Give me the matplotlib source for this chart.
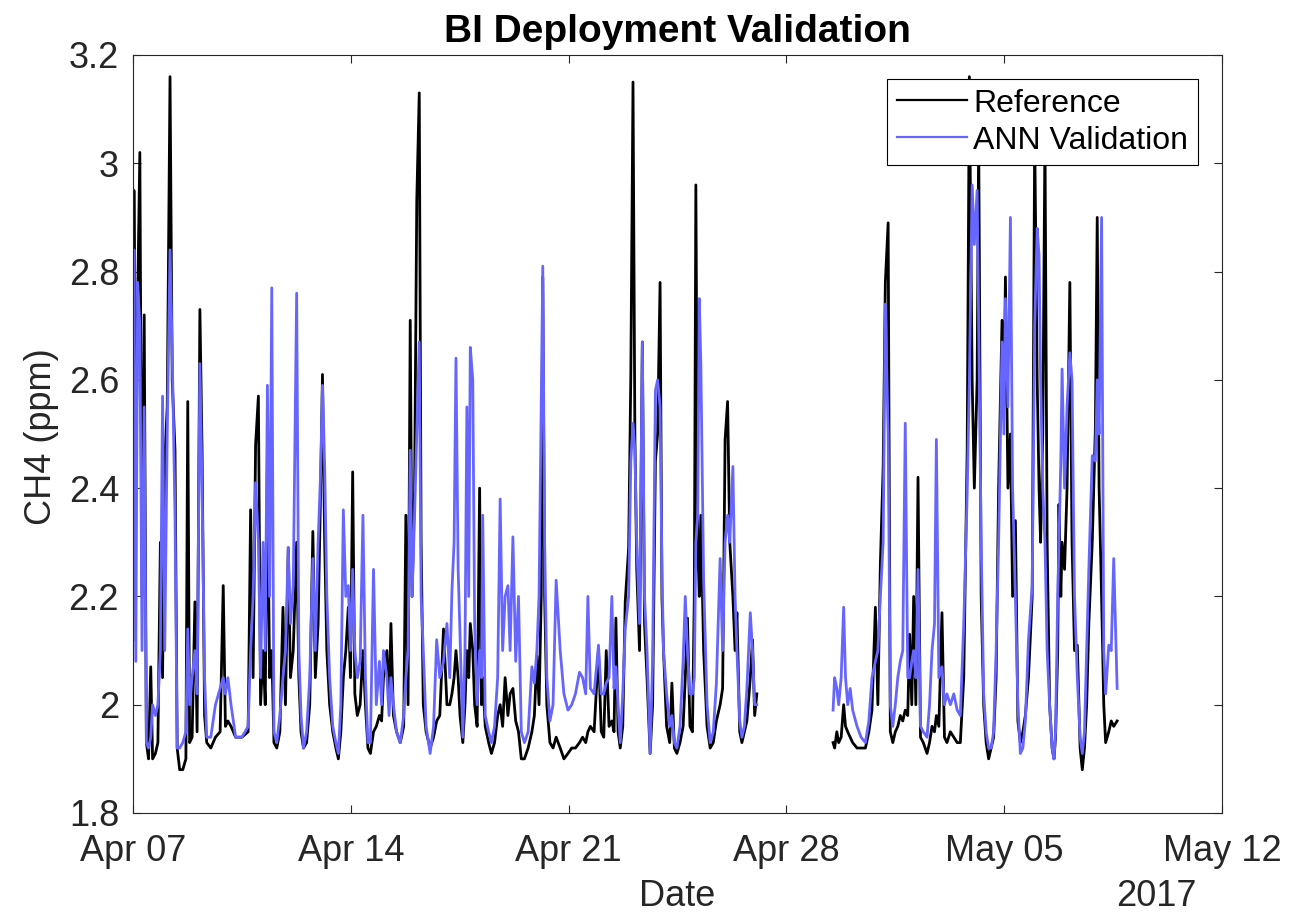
import numpy as np
import pandas as pd
import matplotlib
matplotlib.use("Agg")
from matplotlib import pyplot as plt

plt.rcParams['font.family'] = ['Liberation Sans', 'DejaVu Sans']

# days since 2017-04-07 00:00, CH4 reference and ANN values (ppm)
start = "2017-04-07"
days = [
    0.00, 0.03, 0.09, 0.15, 0.22, 0.29, 0.36, 0.43, 0.50, 0.57,
    0.63, 0.72, 0.80, 0.88, 0.95, 1.02, 1.10, 1.19, 1.26, 1.35,
    1.42, 1.50, 1.60, 1.70, 1.76, 1.82, 1.90, 1.99, 2.06, 2.15,
    2.22, 2.30, 2.37, 2.50, 2.65, 2.80, 2.90, 2.97, 3.05, 3.15,
    3.30, 3.50, 3.70, 3.78, 3.86, 3.94, 4.03, 4.10, 4.18, 4.25,
    4.32, 4.39, 4.46, 4.53, 4.62, 4.72, 4.82, 4.90, 4.99, 5.06,
    5.15, 5.26, 5.33, 5.40, 5.48, 5.58, 5.68, 5.78, 5.86, 5.95,
    6.03, 6.09, 6.16, 6.23, 6.32, 6.42, 6.52, 6.60, 6.68, 6.76,
    6.84, 6.92, 6.99, 7.06, 7.13, 7.21, 7.30, 7.39, 7.47, 7.55,
    7.63, 7.73, 7.82, 7.92, 7.99, 8.05, 8.16, 8.23, 8.29, 8.37,
    8.47, 8.59, 8.70, 8.77, 8.84, 8.91, 8.97, 9.05, 9.12, 9.20,
    9.26, 9.33, 9.42, 9.55, 9.66, 9.76, 9.86, 9.98, 10.09, 10.18,
    10.25, 10.32, 10.38, 10.45, 10.51, 10.60, 10.67, 10.73, 10.79, 10.84,
    10.92, 10.98, 11.06, 11.14, 11.20, 11.24, 11.32, 11.43, 11.52, 11.62,
    11.72, 11.80, 11.88, 11.96, 12.05, 12.12, 12.21, 12.30, 12.39, 12.48,
    12.58, 12.70, 12.82, 12.90, 12.98, 13.05, 13.12, 13.17, 13.23, 13.30,
    13.40, 13.50, 13.60, 13.73, 13.85, 13.98, 14.10, 14.22, 14.35, 14.45,
    14.55, 14.62, 14.70, 14.82, 14.96, 15.05, 15.13, 15.21, 15.30, 15.39,
    15.46, 15.52, 15.59, 15.66, 15.74, 15.82, 15.93, 16.00, 16.07, 16.13,
    16.19, 16.28, 16.37, 16.44, 16.52, 16.62, 16.70, 16.79, 16.86, 16.94,
    17.00, 17.05, 17.15, 17.25, 17.32, 17.40, 17.48, 17.58, 17.68, 17.75,
    17.82, 17.90, 17.98, 18.04, 18.09, 18.15, 18.20, 18.25, 18.34, 18.45,
    18.55, 18.65, 18.75, 18.87, 18.95, 19.03, 19.11, 19.18, 19.28, 19.35,
    19.41, 19.50, 19.57, 19.65, 19.73, 19.84, 19.91, 19.98, 20.05, 21.00,
    22.50, 22.55, 22.62, 22.68, 22.76, 22.84, 22.90, 22.97, 23.05, 23.13,
    23.27, 23.40, 23.54, 23.65, 23.75, 23.86, 23.94, 24.02, 24.11, 24.18,
    24.27, 24.34, 24.42, 24.50, 24.58, 24.66, 24.74, 24.82, 24.90, 24.96,
    25.03, 25.09, 25.16, 25.23, 25.31, 25.40, 25.52, 25.60, 25.68, 25.76,
    25.82, 25.90, 26.00, 26.08, 26.16, 26.27, 26.38, 26.49, 26.59, 26.70,
    26.81, 26.88, 26.97, 27.04, 27.13, 27.18, 27.26, 27.34, 27.42, 27.50,
    27.58, 27.66, 27.74, 27.82, 27.93, 27.99, 28.04, 28.12, 28.20, 28.27,
    28.36, 28.44, 28.52, 28.60, 28.68, 28.78, 28.90, 28.98, 29.06, 29.12,
    29.17, 29.24, 29.31, 29.38, 29.46, 29.54, 29.60, 29.65, 29.72, 29.76,
    29.82, 29.86, 29.94, 30.02, 30.11, 30.18, 30.26, 30.35, 30.44, 30.51,
    30.58, 30.65, 30.72, 30.83, 30.93, 30.99, 31.05, 31.13, 31.20, 31.26,
    31.36, 31.44, 31.52, 31.63,
]
nan = float("nan")
ref = [
    2.12, 2.95, 2.40, 2.75, 3.02, 2.20, 2.72, 1.93, 1.90, 2.07,
    1.90, 1.91, 1.93, 2.30, 2.05, 2.45, 2.55, 3.16, 2.60, 2.47,
    1.92, 1.88, 1.88, 1.90, 2.56, 1.93, 1.94, 2.19, 1.95, 2.73,
    2.47, 1.98, 1.93, 1.92, 1.94, 1.95, 2.22, 1.96, 1.97, 1.96,
    1.94, 1.94, 1.95, 2.36, 2.05, 2.48, 2.57, 2.00, 2.10, 2.00,
    2.46, 2.05, 2.10, 1.93, 1.92, 1.95, 2.18, 2.00, 2.29, 2.05,
    2.10, 2.30, 2.05, 1.95, 1.92, 1.93, 2.00, 2.32, 2.05, 2.15,
    2.40, 2.61, 2.30, 2.10, 2.00, 1.95, 1.92, 1.90, 1.95, 2.05,
    2.10, 2.18, 2.05, 2.43, 2.02, 1.98, 2.00, 2.10, 2.00, 1.92,
    1.91, 1.95, 1.96, 1.98, 1.97, 2.05, 2.10, 2.00, 2.15, 1.98,
    1.95, 1.93, 1.96, 2.35, 2.00, 2.71, 2.20, 2.40, 2.93, 3.13,
    2.30, 2.00, 1.95, 1.92, 1.94, 1.97, 1.98, 2.14, 2.00, 2.00,
    2.02, 2.05, 2.10, 2.05, 1.98, 1.93, 2.00, 2.10, 2.05, 2.15,
    2.10, 2.00, 1.96, 2.40, 2.00, 2.05, 1.96, 1.93, 1.91, 1.93,
    1.98, 2.00, 1.96, 2.05, 1.98, 2.02, 2.03, 1.97, 1.95, 1.90,
    1.90, 1.92, 1.95, 1.98, 2.09, 2.00, 2.20, 2.79, 2.20, 2.00,
    1.93, 1.92, 1.94, 1.92, 1.90, 1.91, 1.92, 1.92, 1.93, 1.94,
    1.93, 1.95, 1.96, 1.95, 2.10, 1.95, 1.94, 2.10, 1.96, 1.97,
    1.95, 2.16, 1.95, 1.92, 1.96, 2.19, 2.29, 2.61, 3.15, 2.50,
    2.25, 2.10, 2.67, 2.15, 2.05, 1.91, 2.00, 2.45, 2.50, 2.78,
    2.20, 2.10, 1.96, 1.93, 2.04, 1.92, 1.91, 1.93, 1.96, 2.05,
    2.16, 1.96, 1.95, 2.20, 2.96, 2.30, 2.20, 2.35, 2.10, 1.96,
    1.92, 1.93, 1.97, 2.00, 2.03, 2.49, 2.56, 2.30, 2.20, 2.10,
    2.17, 1.95, 1.93, 1.95, 1.97, 2.05, 2.12, 1.98, 2.02, nan,
    1.93, 1.92, 1.95, 1.93, 1.94, 2.00, 1.96, 1.95, 1.94, 1.93,
    1.92, 1.92, 1.92, 1.95, 1.99, 2.18, 2.00, 2.26, 2.44, 2.78,
    2.89, 1.95, 1.93, 1.95, 1.96, 1.98, 1.97, 1.99, 1.98, 2.13,
    2.00, 2.20, 2.00, 2.42, 1.94, 1.93, 1.91, 1.93, 1.96, 1.95,
    1.98, 1.96, 2.17, 1.94, 1.93, 1.95, 1.94, 1.93, 1.93, 2.05,
    2.47, 3.16, 2.60, 2.40, 2.60, 3.05, 2.20, 2.00, 1.93, 1.90,
    1.92, 1.94, 2.05, 2.40, 2.71, 2.55, 2.79, 2.40, 2.50, 2.20,
    2.34, 1.97, 1.93, 1.95, 1.98, 2.05, 2.20, 3.05, 2.60, 2.40,
    2.30, 2.50, 3.05, 2.30, 2.00, 1.92, 1.90, 1.94, 2.10, 2.37,
    2.20, 2.30, 2.25, 2.40, 2.78, 2.30, 2.10, 2.11, 1.92, 1.88,
    1.92, 2.00, 2.15, 2.30, 2.51, 2.90, 2.40, 2.20, 2.00, 1.93,
    1.95, 1.97, 1.96, 1.97,
]
ann = [
    2.35, 2.84, 2.08, 2.78, 2.70, 2.10, 2.55, 1.93, 1.92, 1.94,
    2.00, 1.98, 2.00, 2.10, 2.57, 2.10, 2.50, 2.84, 2.65, 2.35,
    1.92, 1.92, 1.93, 1.95, 2.14, 2.00, 2.05, 2.10, 2.02, 2.63,
    2.40, 2.05, 1.94, 1.94, 2.00, 2.03, 2.05, 2.02, 2.05, 2.00,
    1.94, 1.94, 1.96, 2.10, 2.20, 2.41, 2.30, 2.05, 2.30, 2.10,
    2.59, 2.20, 2.77, 1.95, 1.93, 1.98, 2.05, 2.10, 2.29, 2.15,
    2.22, 2.76, 2.10, 1.98, 1.92, 1.95, 2.05, 2.27, 2.10, 2.30,
    2.43, 2.59, 2.44, 2.20, 2.05, 1.96, 1.93, 1.91, 2.00, 2.36,
    2.20, 2.22, 2.10, 2.25, 2.10, 2.05, 2.08, 2.35, 2.05, 1.93,
    1.93, 2.25, 2.00, 2.08, 2.00, 2.10, 2.05, 1.98, 2.05, 2.00,
    1.95, 1.93, 1.98, 2.05, 2.10, 2.47, 2.20, 2.35, 2.50, 2.67,
    2.20, 2.10, 1.96, 1.91, 1.96, 2.12, 2.05, 2.08, 2.15, 2.05,
    2.21, 2.30, 2.64, 2.25, 2.13, 1.94, 2.10, 2.55, 2.20, 2.66,
    2.60, 2.15, 2.00, 2.10, 2.05, 2.35, 1.98, 1.95, 1.93, 1.96,
    2.05, 2.38, 2.10, 2.20, 2.22, 2.10, 2.31, 2.08, 2.20, 1.95,
    1.93, 1.95, 2.07, 2.04, 2.10, 2.20, 2.55, 2.81, 2.30, 2.05,
    1.97, 2.00, 2.23, 2.10, 2.02, 1.99, 2.00, 2.02, 2.06, 2.05,
    2.02, 2.20, 2.03, 2.02, 2.11, 2.02, 2.02, 2.04, 2.05, 2.20,
    2.03, 2.07, 2.00, 1.93, 2.02, 2.14, 2.20, 2.45, 2.52, 2.47,
    2.30, 2.15, 2.67, 2.20, 2.10, 1.91, 2.08, 2.58, 2.60, 2.55,
    2.25, 2.10, 2.02, 1.96, 1.98, 1.93, 1.92, 1.96, 2.08, 2.20,
    2.10, 2.02, 2.02, 2.05, 2.30, 2.35, 2.75, 2.63, 2.23, 2.00,
    1.93, 1.95, 2.04, 2.27, 2.10, 2.30, 2.35, 2.30, 2.44, 2.20,
    2.10, 1.97, 1.94, 1.96, 2.03, 2.17, 2.10, 2.00, 2.00, nan,
    1.99, 2.05, 2.03, 2.00, 2.05, 2.18, 2.05, 2.00, 2.03, 1.99,
    1.96, 1.94, 1.93, 1.97, 2.05, 2.08, 2.10, 2.20, 2.30, 2.74,
    2.50, 2.00, 1.96, 2.00, 2.05, 2.08, 2.10, 2.52, 2.05, 2.05,
    2.08, 2.10, 2.05, 2.25, 1.96, 1.95, 1.94, 2.00, 2.10, 2.15,
    2.49, 2.05, 2.07, 2.00, 2.02, 2.00, 2.02, 1.99, 1.98, 2.15,
    2.39, 2.60, 2.96, 2.85, 2.95, 2.70, 2.30, 2.02, 1.95, 1.92,
    1.92, 1.95, 2.10, 2.30, 2.67, 2.50, 2.75, 2.55, 2.90, 2.40,
    2.20, 2.00, 1.91, 1.92, 1.97, 2.12, 2.22, 2.70, 2.88, 2.83,
    2.60, 2.40, 2.30, 2.10, 2.00, 1.92, 1.90, 1.95, 2.20, 2.30,
    2.45, 2.62, 2.40, 2.55, 2.65, 2.60, 2.20, 2.05, 1.94, 1.91,
    1.95, 2.10, 2.25, 2.46, 2.45, 2.60, 2.50, 2.90, 2.10, 2.02,
    2.11, 2.10, 2.27, 2.03,
]
tick_dates = ["2017-04-07", "2017-04-14", "2017-04-21", "2017-04-28", "2017-05-05", "2017-05-12"]
tick_labels = ["Apr 07", "Apr 14", "Apr 21", "Apr 28", "May 05", "May 12"]
yticks = [1.8, 2.0, 2.2, 2.4, 2.6, 2.8, 3.0, 3.2]

t = pd.Timestamp(start) + pd.to_timedelta(np.array(days), unit="D")

fig = plt.figure(figsize=(12.94, 9.16), dpi=100)
ax = fig.add_axes([133 / 1294, 1 - 813 / 916, 1089 / 1294, 758 / 916])

grey = "#262626"
ax.plot(t, ref, color="black", lw=2.0, label="Reference")
ax.plot(t, ann, color="#6666ff", lw=2.0, label="ANN Validation")

ax.set_xlim(pd.Timestamp(tick_dates[0]), pd.Timestamp(tick_dates[-1]))
ax.set_ylim(1.8, 3.2)
ax.set_xticks([pd.Timestamp(d) for d in tick_dates])
ax.set_xticklabels(tick_labels)
ax.set_yticks(yticks)
ax.set_yticklabels([f"{v:g}" for v in yticks])

ax.tick_params(direction="in", length=6, width=0.8, color=grey, labelcolor=grey,
               labelsize=26, top=True, right=True)
ax.tick_params(axis="x", pad=15)
ax.tick_params(axis="y", pad=10)
for s in ax.spines.values():
    s.set_color(grey)
    s.set_linewidth(0.8)

ax.set_title("BI Deployment Validation", fontsize=28, fontweight="bold", pad=9)
ax.set_xlabel("Date", fontsize=26, color=grey)
ax.xaxis.set_label_coords(0.5, -0.087)
ax.set_ylabel("CH4 (ppm)", fontsize=26, color=grey)
ax.yaxis.set_label_coords(-0.068, 0.497)
fig.text(1156 / 1294, 1 - 879 / 916, "2017", fontsize=26, color=grey, ha="center", va="top")

leg = ax.legend(loc="upper right", fontsize=23, frameon=True, fancybox=False,
                framealpha=1, edgecolor="black", borderpad=0.3, labelspacing=0.22,
                handlelength=2.2, handletextpad=0.2, borderaxespad=0.75)
leg.get_frame().set_linewidth(0.8)
for line in leg.get_lines():
    line.set_linewidth(1.6)

fig.savefig("out.png", dpi=100)
